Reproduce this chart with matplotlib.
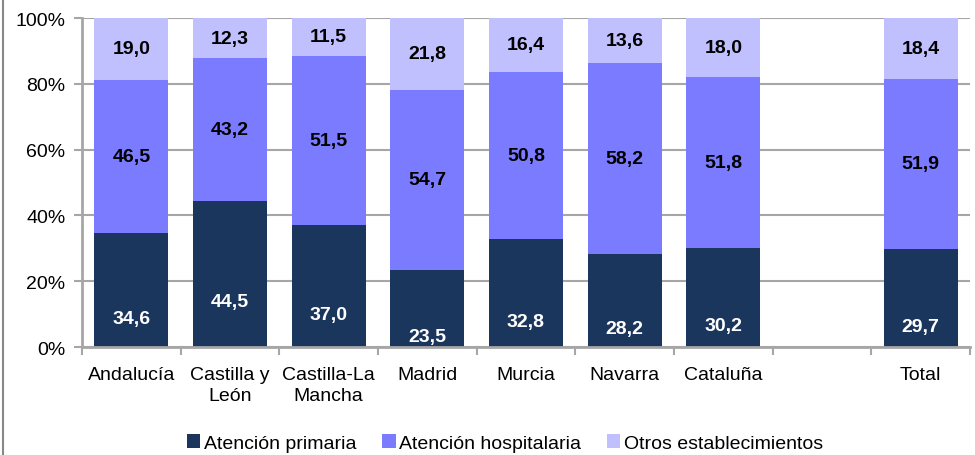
import numpy as np
import matplotlib
matplotlib.use('Agg')
import matplotlib.pyplot as plt
from matplotlib import font_manager
from matplotlib.lines import Line2D

names = [f.name for f in font_manager.fontManager.ttflist]
fam = 'Liberation Sans Narrow' if 'Liberation Sans Narrow' in names else 'Liberation Sans'
plt.rcParams['font.family'] = [fam, 'DejaVu Sans']

categorias = ['Andalucía', 'Castilla y\nLeón', 'Castilla-La\nMancha', 'Madrid', 'Murcia',
              'Navarra', 'Cataluña', '', 'Total']
primaria = [34.6, 44.5, 37.0, 23.5, 32.8, 28.2, 30.2, np.nan, 29.7]
hospitalaria = [46.5, 43.2, 51.5, 54.7, 50.8, 58.2, 51.8, np.nan, 51.9]
otros = [19.0, 12.3, 11.5, 21.8, 16.4, 13.6, 18.0, np.nan, 18.4]

c1, c2, c3 = '#1b365d', '#7b7bff', '#c0c0ff'
grid_c = '#a6a6a6'

fig = plt.figure(figsize=(9.75, 4.56), dpi=100)
ax = fig.add_axes([0.0841, 0.2368, 0.9108, 0.7215])

x = np.arange(len(categorias))
p = np.array(primaria)
h = np.array(hospitalaria)
o = np.array(otros)
w = 0.75
ax.bar(x, p, w, color=c1, label='Atención primaria', zorder=3)
ax.bar(x, h, w, bottom=p, color=c2, label='Atención hospitalaria', zorder=3)
ax.bar(x, o, w, bottom=p + h, color=c3, label='Otros establecimientos', zorder=3)

for i in range(len(x)):
    if np.isnan(p[i]):
        continue
    ax.text(x[i], p[i] / 2 - 8.5, f'{p[i]:.1f}'.replace('.', ','), ha='center', va='center',
            color='white', fontsize=14, fontweight='bold', zorder=4)
    ax.text(x[i], p[i] + h[i] / 2, f'{h[i]:.1f}'.replace('.', ','), ha='center', va='center',
            color='black', fontsize=14, fontweight='bold', zorder=4)
    ax.text(x[i], p[i] + h[i] + o[i] / 2, f'{o[i]:.1f}'.replace('.', ','), ha='center', va='center',
            color='black', fontsize=14, fontweight='bold', zorder=4)

ax.set_xlim(-0.5, len(x) - 0.5)
ax.set_ylim(0, 100)
ax.set_yticks(np.arange(0, 101, 20))
ax.set_yticklabels([f'{v}%' for v in range(0, 101, 20)])
ax.set_xticks(x)
ax.set_xticklabels(categorias, linespacing=1.3)
ax.set_xticks(np.arange(-0.5, len(x), 1), minor=True)
ax.tick_params(axis='x', which='major', length=0, pad=14, labelsize=14)
ax.tick_params(axis='x', which='minor', length=6, width=1.5, color=grid_c, direction='out')
ax.tick_params(axis='y', length=6, width=1.5, color=grid_c, labelsize=14, pad=6)
ax.yaxis.grid(True, color=grid_c, linewidth=1.5, zorder=0)
for s in ['top', 'right']:
    ax.spines[s].set_visible(False)
for s in ['left', 'bottom']:
    ax.spines[s].set_color(grid_c)
    ax.spines[s].set_linewidth(2)
    ax.spines[s].set_zorder(5)

fig.legend(loc='center', bbox_to_anchor=(0.518, 0.026), ncol=3, frameon=False, fontsize=14,
           handlelength=0.7, handleheight=0.7, handletextpad=0.2, columnspacing=1.3)

fig.add_artist(Line2D([0.003, 0.003], [0, 1], transform=fig.transFigure, color='#888888', linewidth=1.5))

fig.savefig('out.png', dpi=100)
